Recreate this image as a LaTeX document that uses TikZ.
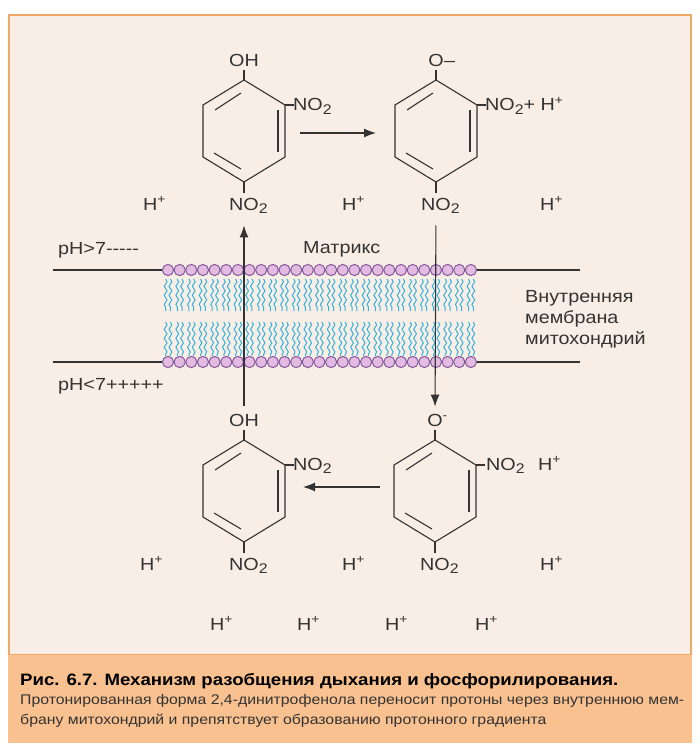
\documentclass[tikz,border=0pt]{standalone}
\usepackage{fontspec}
\setmainfont{Liberation Sans}[FakeStretch=1.13]
\usetikzlibrary{arrows.meta,decorations.pathmorphing}
\definecolor{framefill}{HTML}{F9EEE6}
\definecolor{frameline}{HTML}{F0A868}
\definecolor{capfill}{HTML}{F9C18F}
\definecolor{ink}{HTML}{333333}
\definecolor{tailblue}{HTML}{35B2DC}
\definecolor{headfill}{HTML}{E2BAE2}
\definecolor{headline}{HTML}{84589A}
\newcommand\lowr[1]{\raisebox{-0.35ex}{\fontsize{14}{14}\selectfont #1}}
\tikzset{
  bond/.style={draw=ink, line width=1.1pt, line join=miter},
  lbl/.style={anchor=base, inner sep=0pt, text=ink, font=\fontsize{17.5}{17.5}\selectfont},
  flow/.style={draw=ink, line width=1.1pt, -{Latex[length=12pt,width=9pt]}},
  tail/.style={draw=tailblue, line width=1pt, decorate,
    decoration={snake, amplitude=1.4pt, segment length=9pt}},
  head/.style={draw=headline, fill=headfill, line width=1pt}
}
% ring of 2,4-dinitrophenol, #1 = centre
\newcommand\dnpring[1]{%
  \begin{scope}[shift={#1}]
    \draw[bond] (0,-51) -- (41,-26) -- (41,26) -- (0,51) -- (-41,26) -- (-41,-26) -- cycle;
    \draw[bond] (-29,-21) -- (-3,-38);
    \draw[bond] (34,-21) -- (34,21);
    \draw[bond] (-30,22) -- (-3,38);
    \draw[bond] (0,-51) -- (0,-61);
    \draw[bond] (41,-26) -- (50,-26);
    \draw[bond] (0,51) -- (0,62);
  \end{scope}}
\begin{document}
\begin{tikzpicture}[x=1pt, y=-1pt]
	\useasboundingbox (0,0) rectangle (700,754);
	\fill[white] (0,0) rectangle (700,754);
	\draw[frameline, fill=framefill, line width=1.5pt] (9,15) rectangle (691,655);
	\fill[capfill] (8,655) rectangle (692,743);
	% membrane
	\foreach \i in {0,...,26} {
		\pgfmathsetmacro\hx{168+11.65*\i}
		\draw[tail] (\hx-2.4,279) -- (\hx-2.4,311);
		\draw[tail] (\hx+2.4,279) -- (\hx+2.4,311);
		\draw[tail] (\hx-2.4,322) -- (\hx-2.4,356);
		\draw[tail] (\hx+2.4,322) -- (\hx+2.4,356);
	}
	\draw[bond] (53,270) -- (163,270);
	\draw[bond] (53,362) -- (163,362);
	\draw[bond] (476,270) -- (580,270);
	\draw[bond] (476,362) -- (580,362);
	\foreach \i in {0,...,26} {
		\pgfmathsetmacro\hx{168+11.65*\i}
		\draw[head] (\hx,270) circle (5.6);
		\draw[head] (\hx,362) circle (5.6);
	}
	\node[lbl, anchor=base west] (phhi) at (58,254) {pH>7-{}-{}-{}-{}-};
	\node[lbl, anchor=base west] (phlo) at (58,390) {pH<7+++++};
	\node[lbl, anchor=base west] (matrix) at (303,253) {Матрикс};
	\node[lbl, anchor=base west] (mem1) at (525,302) {Внутренняя};
	\node[lbl, anchor=base west] (mem2) at (525,323) {мембрана};
	\node[lbl, anchor=base west] (mem3) at (525,344) {митохондрий};
	% molecules
	\dnpring{(244,131)}
	\node[lbl] (oh1) at (244,67) {OH};
	\node[lbl, anchor=base west] (nr1) at (293,111) {NO\lowr{2}};
	\node[lbl] (nb1) at (244,210) {NO\rlap{\lowr{2}}};
	\dnpring{(436,131)}
	\node[lbl] (om2) at (436,67) {O\rlap{\kern0.5pt–}};
	\node[lbl, anchor=base west] (nr2) at (485,111) {NO\lowr{2}+ H\textsuperscript{+}};
	\node[lbl] (nb2) at (436,210) {NO\rlap{\lowr{2}}};
	\dnpring{(244,491)}
	\node[lbl] (oh3) at (244,426) {OH};
	\node[lbl, anchor=base west] (nr3) at (293,470) {NO\lowr{2}};
	\node[lbl] (nb3) at (244,570) {NO\rlap{\lowr{2}}};
	\dnpring{(435,491)}
	\node[lbl] (om4) at (435,426) {O\rlap{\textsuperscript{-}}};
	\node[lbl, anchor=base west] (nr4) at (486,470) {NO\lowr{2}};
	\node[lbl] (nb4) at (435,570) {NO\rlap{\lowr{2}}};
	% protons
	\foreach \px/\py [count=\k] in {143/210, 342/210, 540/210, 538/470, 140/570, 342/570, 540/570, 210/630, 297/630, 385/630, 475/630}
		\node[lbl, anchor=base west] (hp\k) at (\px,\py) {H\textsuperscript{+}};
	% transport
	\coordinate (ta) at (300,133);
	\coordinate (tb) at (376,133);
	\coordinate (ba) at (380,487);
	\coordinate (bb) at (303,487);
	\draw[flow] (ta) -- (tb);
	\draw[flow] (ba) -- (bb);
	\draw[flow, shorten <=8pt, shorten >=12pt] (oh3.north) -- (nb1.south);
	\draw[flow, shorten <=12pt, shorten >=7pt] (nb2.south) -- (om4.north);
	% caption
	\node[anchor=base west, inner sep=0pt, text=black, font=\bfseries\fontsize{16.5}{16.5}\selectfont] (captitle) at (20,685) {Рис. 6.7. Механизм разобщения дыхания и фосфорилирования.};
	\node[anchor=base west, inner sep=0pt, text=ink, font=\fontsize{14}{14}\selectfont] (capline1) at (20,704) {Протонированная форма 2,4-динитрофенола переносит протоны через внутреннюю мем-};
	\node[anchor=base west, inner sep=0pt, text=ink, font=\fontsize{14}{14}\selectfont] (capline2) at (20,724) {брану митохондрий и препятствует образованию протонного градиента};
\end{tikzpicture}
\end{document}
